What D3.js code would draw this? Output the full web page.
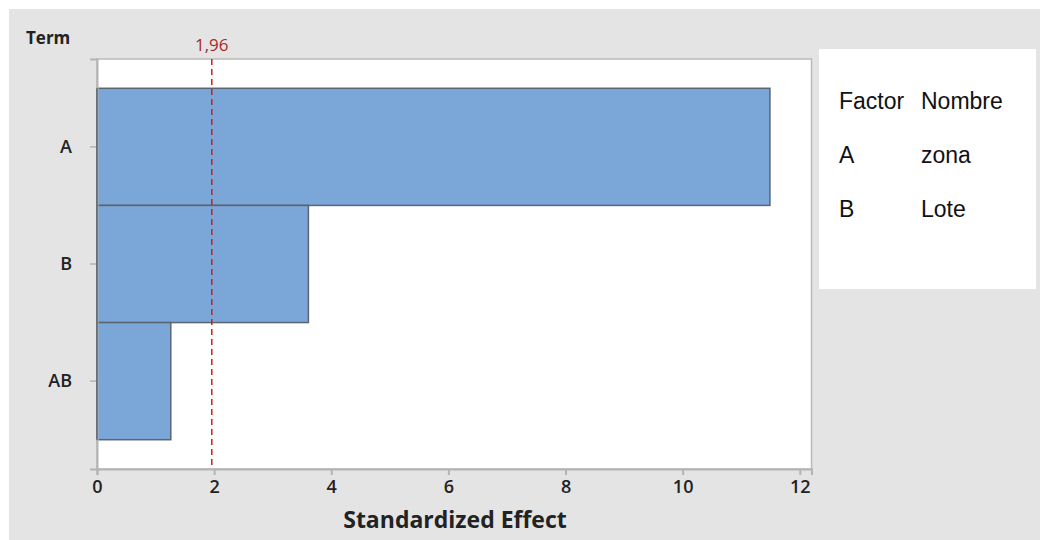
<!DOCTYPE html>
<html>
<head>
<meta charset="utf-8">
<script src="https://cdn.jsdelivr.net/npm/d3@7"></script>
<style>
  html, body { margin: 0; padding: 0; background: #ffffff; }
  svg { display: block; }
</style>
</head>
<body>
<svg id="chart" width="1040" height="540"></svg>
<script>
// ---- data ----
const terms = ["A", "B", "AB"];
const effects = [11.49, 3.61, 1.26];
const xTicks = [0, 2, 4, 6, 8, 10, 12];
const refValue = 1.96;
const refLabel = "1,96";
const legendHeader = ["Factor", "Nombre"];
const legendFactors = ["A", "B"];
const legendNames = ["zona", "Lote"];

// ---- layout ----
const svg = d3.select("#chart");
const W = 1040, H = 540;
const plot = { left: 97, right: 811.5, top: 59, bottom: 469 };
const uiFont = "Open Sans, sans-serif";

svg.append("rect").attr("x", 0).attr("y", 0).attr("width", W).attr("height", H).attr("fill", "#ffffff");
svg.append("rect").attr("x", 9).attr("y", 9).attr("width", W - 9).attr("height", H - 9).attr("fill", "#e4e4e4");

const x = d3.scaleLinear().domain([0, 12.2]).range([plot.left, plot.right]);
const y = d3.scaleBand().domain(terms).range([plot.top, plot.bottom]).paddingInner(0).paddingOuter(0.25);

// plot area
svg.append("rect")
  .attr("x", plot.left).attr("y", plot.top)
  .attr("width", plot.right - plot.left).attr("height", plot.bottom - plot.top)
  .attr("fill", "#ffffff").attr("stroke", "#b9b9b9").attr("stroke-width", 1.5);

// bars
svg.append("g").selectAll("rect")
  .data(terms.map((t, i) => ({ term: t, value: effects[i] })))
  .join("rect")
  .attr("x", x(0))
  .attr("y", d => y(d.term))
  .attr("width", d => x(d.value) - x(0))
  .attr("height", y.bandwidth())
  .attr("fill", "#7ba6d8")
  .attr("stroke", "#5b6570")
  .attr("stroke-width", 1.5);

// reference line
svg.append("line")
  .attr("x1", x(refValue)).attr("x2", x(refValue))
  .attr("y1", plot.top).attr("y2", plot.bottom)
  .attr("stroke", "#d01a1a").attr("stroke-width", 1.5)
  .attr("stroke-dasharray", "6,4");
svg.append("text")
  .attr("x", x(refValue)).attr("y", 51)
  .attr("text-anchor", "middle")
  .attr("font-family", uiFont).attr("font-size", 17).attr("font-weight", 500)
  .attr("fill", "#a52a2a")
  .text(refLabel);

// x axis
const xAxis = d3.axisBottom(x).tickValues(xTicks).tickSize(6).tickPadding(5).tickFormat(d3.format("d"));
const gx = svg.append("g").attr("transform", `translate(0,${plot.bottom})`).call(xAxis);
gx.select(".domain").attr("stroke", "#b4b4b4").attr("stroke-width", 2);
gx.selectAll(".tick line").attr("stroke", "#b4b4b4").attr("stroke-width", 2);
gx.selectAll(".tick text")
  .attr("font-family", uiFont).attr("font-size", 18).attr("font-weight", 600)
  .attr("fill", "#222");

// y axis
const yAxis = d3.axisLeft(y).tickSize(7).tickPadding(18);
const gy = svg.append("g").attr("transform", `translate(${plot.left},0)`).call(yAxis);
gy.select(".domain").attr("stroke", "#b4b4b4").attr("stroke-width", 2);
gy.selectAll(".tick line").attr("stroke", "#b4b4b4").attr("stroke-width", 1.5);
gy.selectAll(".tick text")
  .attr("font-family", uiFont).attr("font-size", 18).attr("font-weight", 600)
  .attr("fill", "#222");

// bars' left edge over axis
svg.append("line")
  .attr("x1", x(0)).attr("x2", x(0))
  .attr("y1", y(terms[0])).attr("y2", y(terms[terms.length - 1]) + y.bandwidth())
  .attr("stroke", "#5b6570").attr("stroke-width", 1.5);

// titles
svg.append("text")
  .attr("x", 26).attr("y", 44)
  .attr("font-family", uiFont).attr("font-size", 17).attr("font-weight", 700)
  .attr("fill", "#222")
  .text("Term");
svg.append("text")
  .attr("x", 455).attr("y", 528)
  .attr("text-anchor", "middle")
  .attr("font-family", uiFont).attr("font-size", 23).attr("font-weight", 700)
  .attr("fill", "#222")
  .text("Standardized Effect");

// legend box
const lg = svg.append("g");
lg.append("rect").attr("x", 819).attr("y", 49).attr("width", 217).attr("height", 240).attr("fill", "#ffffff");
const col1 = 839, col2 = 921, row0 = 109, rowStep = 54;
const legendRows = [legendHeader].concat(legendFactors.map((f, i) => [f, legendNames[i]]));
legendRows.forEach((r, i) => {
  lg.append("text").attr("x", col1).attr("y", row0 + i * rowStep)
    .attr("font-family", "Liberation Sans, Arial, sans-serif").attr("font-size", 23).attr("fill", "#111")
    .attr("textLength", null)
    .text(r[0]);
  lg.append("text").attr("x", col2).attr("y", row0 + i * rowStep)
    .attr("font-family", "Liberation Sans, Arial, sans-serif").attr("font-size", 23).attr("fill", "#111")
    .text(r[1]);
});
</script>
</body>
</html>
